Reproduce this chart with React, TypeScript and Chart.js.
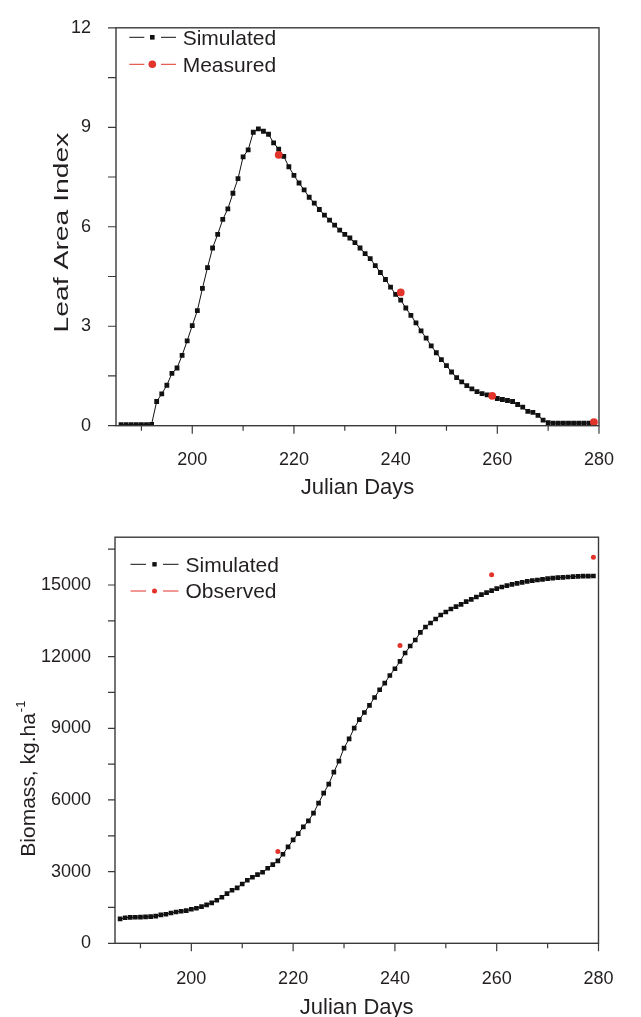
import { useEffect, useRef } from 'react';
import { Chart, registerables } from 'chart.js';

Chart.register(...registerables);

// ---------- data ----------
const days = [
  186, 187, 188, 189, 190, 191, 192, 193, 194, 195, 196, 197, 198, 199, 200, 201, 202, 203, 204, 205,
  206, 207, 208, 209, 210, 211, 212, 213, 214, 215, 216, 217, 218, 219, 220, 221, 222, 223, 224, 225,
  226, 227, 228, 229, 230, 231, 232, 233, 234, 235, 236, 237, 238, 239, 240, 241, 242, 243, 244, 245,
  246, 247, 248, 249, 250, 251, 252, 253, 254, 255, 256, 257, 258, 259, 260, 261, 262, 263, 264, 265,
  266, 267, 268, 269, 270, 271, 272, 273, 274, 275, 276, 277, 278, 279,
];

const laiSimulated = [
  0.03, 0.03, 0.03, 0.03, 0.03, 0.03, 0.04, 0.73, 0.96, 1.22, 1.58, 1.74, 2.12, 2.56, 3.02, 3.47, 4.14, 4.77, 5.36, 5.77,
  6.22, 6.54, 7.01, 7.45, 8.11, 8.32, 8.85, 8.95, 8.88, 8.79, 8.53, 8.34, 8.12, 7.81, 7.55, 7.32, 7.11, 6.89, 6.71, 6.52,
  6.35, 6.2, 6.05, 5.9, 5.77, 5.66, 5.52, 5.36, 5.19, 5.04, 4.83, 4.62, 4.41, 4.18, 3.96, 3.79, 3.55, 3.33, 3.1, 2.86,
  2.64, 2.41, 2.2, 1.99, 1.81, 1.62, 1.45, 1.32, 1.21, 1.11, 1.03, 0.97, 0.93, 0.88, 0.82, 0.79, 0.76, 0.73, 0.64, 0.56,
  0.43, 0.4, 0.31, 0.17, 0.09, 0.08, 0.08, 0.08, 0.08, 0.08, 0.08, 0.08, 0.08, 0.08,
];

const laiMeasuredDays = [217, 241, 259, 279];
const laiMeasured = [8.17, 4.02, 0.9, 0.11];

const biomassSimulated = [
  1020, 1070, 1085, 1090, 1095, 1105, 1117, 1140, 1187, 1215, 1270, 1311, 1341, 1366, 1424, 1466, 1536, 1606, 1690, 1801,
  1927, 2078, 2220, 2317, 2484, 2638, 2764, 2873, 2974, 3142, 3293, 3448, 3729, 4035, 4328, 4592, 4873, 5124, 5447, 5866,
  6285, 6662, 7165, 7626, 8171, 8560, 9009, 9360, 9662, 9960, 10291, 10613, 10894, 11212, 11493, 11799, 12151, 12444, 12696, 13014,
  13240, 13408, 13576, 13743, 13869, 13995, 14091, 14188, 14300, 14397, 14497, 14594, 14678, 14762, 14845, 14916, 14971, 15026, 15068, 15110,
  15152, 15180, 15209, 15235, 15264, 15290, 15305, 15320, 15335, 15348, 15360, 15368, 15372, 15377,
];

const biomassObservedDays = [217, 241, 259, 279];
const biomassObserved = [3840, 12470, 15430, 16160];

const xTickValues = [190, 200, 210, 220, 230, 240, 250, 260, 270, 280];
const laiTickValues = [0, 1.5, 3, 4.5, 6, 7.5, 9, 10.5, 12];
const biomassTickValues = [0, 1500, 3000, 4500, 6000, 7500, 9000, 10500, 12000, 13500, 15000, 16500];

// ---------- styles ----------
const FONT = "'Liberation Sans', Arial, Helvetica, sans-serif";
const TEXT = '#231f20';
const AXIS = '#3a3a3a';
const RED = '#e2342a';
const BLACK = '#111111';
const W = 641;

type Cfg = {
  height: number;
  area: { left: number; top: number; right: number; bottom: number };
  yMax: number;
  yTicks: number[];
  yLabelEvery: number;
  yTickLen: number;
  xPad: number;
  yPad: number;
  sim: number[];
  obsDays: number[];
  obs: number[];
  simRadius: number;
  obsRadius: number;
  obsLabel: string;
  legend: { rows: number[]; baselines: number[]; l1: [number, number]; marker: number; l2: [number, number]; textX: number; sq: number; dot: number };
  xTitle: { x: number; y: number };
  yTitle: (ctx: CanvasRenderingContext2D) => void;
};

function makeDecor(cfg: Cfg) {
  return {
    id: 'decor',
    afterDraw(chart: any) {
      const ctx: CanvasRenderingContext2D = chart.ctx;
      const { left, top, right, bottom } = chart.chartArea;
      const xs = chart.scales.x;
      const ys = chart.scales.y;
      ctx.save();
      // frame
      ctx.strokeStyle = AXIS;
      ctx.lineWidth = 1.4;
      ctx.strokeRect(left, top, right - left, bottom - top);
      // x ticks
      ctx.lineWidth = 1.2;
      ctx.beginPath();
      xTickValues.forEach((v) => {
        const px = xs.getPixelForValue(v);
        const len = v % 20 === 0 ? 8 : 5;
        ctx.moveTo(px, bottom);
        ctx.lineTo(px, bottom + len);
      });
      // y ticks
      cfg.yTicks.forEach((v) => {
        const py = ys.getPixelForValue(v);
        ctx.moveTo(left - cfg.yTickLen, py);
        ctx.lineTo(left, py);
      });
      ctx.stroke();

      // x title
      ctx.fillStyle = TEXT;
      ctx.font = `22px ${FONT}`;
      ctx.textAlign = 'center';
      ctx.textBaseline = 'alphabetic';
      ctx.fillText('Julian Days', cfg.xTitle.x, cfg.xTitle.y);

      // y title
      cfg.yTitle(ctx);

      // legend
      const lg = cfg.legend;
      const rows = [
        { color: BLACK, label: 'Simulated', square: true },
        { color: RED, label: cfg.obsLabel, square: false },
      ];
      rows.forEach((r, i) => {
        const cy = lg.rows[i];
        ctx.strokeStyle = r.color;
        ctx.lineWidth = 1;
        ctx.beginPath();
        ctx.moveTo(lg.l1[0], cy);
        ctx.lineTo(lg.l1[1], cy);
        ctx.moveTo(lg.l2[0], cy);
        ctx.lineTo(lg.l2[1], cy);
        ctx.stroke();
        ctx.fillStyle = r.color;
        if (r.square) {
          ctx.fillRect(lg.marker - lg.sq / 2, cy - lg.sq / 2, lg.sq, lg.sq);
        } else {
          ctx.beginPath();
          ctx.arc(lg.marker, cy, lg.dot, 0, Math.PI * 2);
          ctx.fill();
        }
        ctx.fillStyle = TEXT;
        ctx.font = `21px ${FONT}`;
        ctx.textAlign = 'left';
        ctx.textBaseline = 'alphabetic';
        ctx.fillText(r.label, lg.textX, lg.baselines[i]);
      });
      ctx.restore();
    },
  };
}

function buildConfig(cfg: Cfg): any {
  const tickFont = { family: FONT, size: 18 };
  return {
    type: 'line',
    data: {
      datasets: [
        {
          label: cfg.obsLabel,
          data: cfg.obsDays.map((d, i) => ({ x: d, y: cfg.obs[i] })),
          showLine: false,
          pointStyle: 'circle',
          pointRadius: cfg.obsRadius,
          pointBackgroundColor: RED,
          pointBorderColor: RED,
          pointBorderWidth: 0,
          borderColor: RED,
        },
        {
          label: 'Simulated',
          data: days.map((d, i) => ({ x: d, y: cfg.sim[i] })),
          borderColor: BLACK,
          borderWidth: 1,
          tension: 0,
          pointStyle: 'rect',
          pointRadius: cfg.simRadius,
          pointBackgroundColor: BLACK,
          pointBorderColor: BLACK,
          pointBorderWidth: 0,
        },
      ],
    },
    options: {
      animation: false,
      responsive: false,
      devicePixelRatio: 1,
      events: [],
      layout: {
        padding: { left: 0, top: cfg.area.top, right: W - cfg.area.right, bottom: 0 },
      },
      plugins: { legend: { display: false }, tooltip: { enabled: false } },
      scales: {
        x: {
          type: 'linear',
          min: 185,
          max: 280,
          grid: { display: false },
          border: { display: false },
          ticks: {
            font: tickFont,
            color: TEXT,
            padding: cfg.xPad,
            maxRotation: 0,
            autoSkip: false,
            callback: (v: number) => (v % 20 === 0 ? String(v) : ''),
          },
          afterBuildTicks: (s: any) => {
            s.ticks = xTickValues.map((v) => ({ value: v }));
          },
          afterFit: (s: any) => {
            s.height = cfg.height - cfg.area.bottom;
          },
        },
        y: {
          type: 'linear',
          min: 0,
          max: cfg.yMax,
          grid: { display: false },
          border: { display: false },
          ticks: {
            font: tickFont,
            color: TEXT,
            padding: cfg.yPad,
            autoSkip: false,
            callback: (v: number) => (Math.abs(v % cfg.yLabelEvery) < 1e-9 ? String(v) : ''),
          },
          afterBuildTicks: (s: any) => {
            s.ticks = cfg.yTicks.map((v) => ({ value: v }));
          },
          afterFit: (s: any) => {
            s.width = cfg.area.left;
          },
        },
      },
    },
    plugins: [makeDecor(cfg)],
  };
}

const TOP_H = 505;
const BOT_H = 512;

const topCfg: Cfg = {
  height: TOP_H,
  area: { left: 116, top: 19.7, right: 599, bottom: 425.7 },
  yMax: 12,
  yTicks: laiTickValues,
  yLabelEvery: 3,
  yTickLen: 8,
  xPad: 16,
  yPad: 17,
  sim: laiSimulated,
  obsDays: laiMeasuredDays,
  obs: laiMeasured,
  simRadius: 3.4,
  obsRadius: 3.9,
  obsLabel: 'Measured',
  legend: { rows: [37.3, 64.3], baselines: [45, 72], l1: [129.3, 144.3], marker: 152.3, l2: [161, 176], textX: 182.7, sq: 4.6, dot: 3.8 },
  xTitle: { x: 357.5, y: 494 },
  yTitle: (ctx) => {
    ctx.save();
    ctx.translate(68.3, 232.5);
    ctx.rotate(-Math.PI / 2);
    ctx.font = `21px ${FONT}`;
    ctx.fillStyle = TEXT;
    ctx.textAlign = 'center';
    ctx.textBaseline = 'alphabetic';
    const w = ctx.measureText('Leaf Area Index').width;
    ctx.scale(200 / w, 1);
    ctx.fillText('Leaf Area Index', 0, 0);
    ctx.restore();
  },
};

const botCfg: Cfg = {
  height: BOT_H,
  area: { left: 115, top: 32.2, right: 598.5, bottom: 438.3 },
  yMax: 17000,
  yTicks: biomassTickValues,
  yLabelEvery: 3000,
  yTickLen: 7,
  xPad: 17,
  yPad: 16,
  sim: biomassSimulated,
  obsDays: biomassObservedDays,
  obs: biomassObserved,
  simRadius: 3.3,
  obsRadius: 2.5,
  obsLabel: 'Observed',
  legend: { rows: [59.3, 86], baselines: [66.7, 93.4], l1: [130.5, 146], marker: 154.5, l2: [163, 178.5], textX: 185.5, sq: 4.4, dot: 2.5 },
  xTitle: { x: 356.7, y: 509 },
  yTitle: (ctx) => {
    ctx.save();
    ctx.translate(35, 351.7);
    ctx.rotate(-Math.PI / 2);
    ctx.fillStyle = TEXT;
    ctx.textAlign = 'left';
    ctx.textBaseline = 'alphabetic';
    ctx.font = `21px ${FONT}`;
    const main = 'Biomass, kg.ha';
    ctx.fillText(main, 0, 0);
    const w = ctx.measureText(main).width;
    ctx.font = `13px ${FONT}`;
    ctx.fillText('-1', w + 1, -10.5);
    ctx.restore();
  },
};

function ChartCanvas({ cfg }: { cfg: Cfg }) {
  const ref = useRef<HTMLCanvasElement | null>(null);
  useEffect(() => {
    if (!ref.current) return;
    const chart = new Chart(ref.current, buildConfig(cfg));
    return () => chart.destroy();
  }, [cfg]);
  return (
    <canvas
      ref={ref}
      width={W}
      height={cfg.height}
      style={{ display: 'block', width: W, height: cfg.height }}
    />
  );
}

export default function App() {
  return (
    <div style={{ position: 'absolute', left: 0, top: 0, width: W, height: TOP_H + BOT_H, background: '#fff' }}>
      <ChartCanvas cfg={topCfg} />
      <ChartCanvas cfg={botCfg} />
    </div>
  );
}
